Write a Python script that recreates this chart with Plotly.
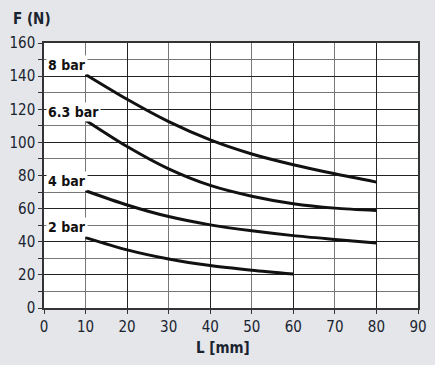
import plotly.graph_objects as go

x_8 = [10, 20, 30, 40, 50, 60, 70, 80]
f_8 = [141, 126, 112.5, 101.5, 93, 86.5, 81, 76]
x_63 = [10, 20, 30, 40, 50, 60, 70, 80]
f_63 = [113.4, 97.5, 84, 74, 67.5, 63, 60.3, 58.8]
x_4 = [10, 20, 30, 40, 50, 60, 70, 80]
f_4 = [70.8, 62.2, 55.2, 50.2, 46.6, 43.7, 41.4, 39.2]
x_2 = [10, 20, 30, 40, 50, 60]
f_2 = [42.5, 35.1, 29.6, 25.6, 22.8, 20.5]
labels = ["8 bar", "6.3 bar", "4 bar", "2 bar"]
label_y = [146.6, 118.2, 76.7, 49]

FONT = "DejaVu Sans Condensed, Liberation Sans Narrow, sans-serif"
TXT = "#1a2330"
fig = go.Figure()
for xs, ys in [(x_8, f_8), (x_63, f_63), (x_4, f_4), (x_2, f_2)]:
    fig.add_trace(go.Scatter(x=xs, y=ys, mode="lines", line=dict(color="#111111", width=3, shape="spline", smoothing=0.8),
                             showlegend=False, hoverinfo="skip"))
fig.add_trace(go.Scatter(x=[None], y=[None], xaxis="x2", showlegend=False, hoverinfo="skip"))

for t, yy in zip(labels, label_y):
    fig.add_annotation(x=0, y=yy, xref="x", yref="y", text="<b>" + t + "</b>", showarrow=False,
                       xanchor="left", xshift=2, bgcolor="white", borderpad=1,
                       font=dict(family=FONT, size=14, color="#111111"))

fig.add_annotation(x=0, y=1.089, xref="paper", yref="paper", text="<b>F (N)</b>", showarrow=False,
                   xanchor="center", yanchor="middle", xshift=-12,
                   font=dict(family=FONT, size=15, color=TXT))
fig.add_annotation(x=0.5, y=-0.151, xref="paper", yref="paper", text="<b>L [mm]</b>", showarrow=False,
                   xanchor="center", yanchor="middle", xshift=-8,
                   font=dict(family=FONT, size=15, color=TXT))

fig.update_layout(
    width=435, height=365, margin=dict(l=44, r=17, t=43, b=57),
    paper_bgcolor="#e4e6e9", plot_bgcolor="white",
    xaxis=dict(range=[0, 90], dtick=10, tick0=0, showgrid=True, gridcolor="#777777", gridwidth=1,
               ticks="outside", ticklen=4, tickcolor="#333", showline=True, linecolor="#333", linewidth=1.5,
               mirror=True, zeroline=False, automargin=False,
               tickfont=dict(family=FONT, size=15, color=TXT)),
    xaxis2=dict(range=[0, 90], dtick=20, tick0=0, overlaying="x", showgrid=True, gridcolor="#222222",
                gridwidth=1, showticklabels=False, ticks="", zeroline=False, showline=False, automargin=False),
    yaxis=dict(range=[0, 160], dtick=20, tick0=0, showgrid=True, gridcolor="#222222", gridwidth=1,
               ticks="outside", ticklen=4, tickcolor="#333", showline=True, linecolor="#333", linewidth=1.5,
               mirror=True, zeroline=False, automargin=False,
               minor=dict(dtick=10, showgrid=True, gridcolor="#777777", gridwidth=1, ticks="outside",
                          ticklen=4, tickcolor="#333"),
               tickfont=dict(family=FONT, size=15, color=TXT)),
)
fig.write_html("out.html", config={"displayModeBar": False},
               post_script="document.body.style.margin='0';document.body.style.background='#e4e6e9';")
